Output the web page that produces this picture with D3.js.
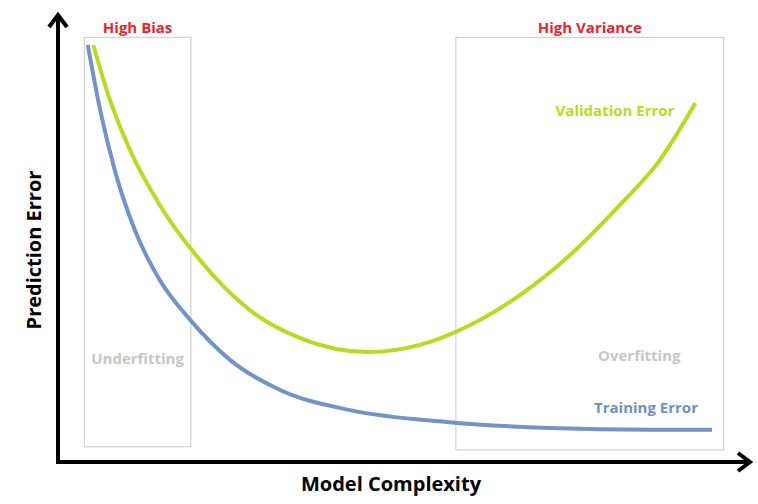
<!DOCTYPE html>
<html><head><meta charset="utf-8">
<script src="https://cdn.jsdelivr.net/npm/d3@7"></script>
<style>body{margin:0;background:#fff}</style>
</head><body>
<svg id="chart" width="758" height="504"></svg>
<script>
// complexity (0-10) vs error (0-10)
var validationX = [0.51,0.75,1.04,1.47,2.05,2.77,3.50,4.48,5.23,5.95,6.68,7.40,8.12,8.70,9.21];
var validationY = [9.33,8.10,6.98,5.75,4.52,3.40,2.77,2.46,2.62,3.06,3.74,4.63,5.75,6.76,8.03];
var trainingX = [0.43,0.61,0.82,1.11,1.47,1.91,2.49,3.21,4.22,5.66,7.11,8.55,9.45];
var trainingY = [9.33,7.87,6.53,5.19,4.07,3.18,2.28,1.61,1.16,0.89,0.76,0.72,0.72];
var regions = [
  {name:"Underfitting", head:"High Bias", x0:0.38, x1:1.92, y0:0.34, y1:9.5, lx:1.15, ly:2.2},
  {name:"Overfitting", head:"High Variance", x0:5.75, x1:9.62, y0:0.27, y1:9.5, lx:8.4, ly:2.27}
];

var svg = d3.select("#chart");
var x = d3.scaleLinear().domain([0,10]).range([58,750]);
var y = d3.scaleLinear().domain([0,10]).range([462,15]);
var font = "'Open Sans', sans-serif";

regions.forEach(function(r){
  svg.append("rect").attr("x",x(r.x0)).attr("y",y(r.y1))
    .attr("width",x(r.x1)-x(r.x0)).attr("height",y(r.y0)-y(r.y1))
    .attr("fill","none").attr("stroke","#c8c8c8").attr("stroke-width",1);
  svg.append("text").attr("x",(x(r.x0)+x(r.x1))/2).attr("y",33)
    .attr("text-anchor","middle").attr("fill","#e8262b").attr("font-family",font)
    .attr("font-weight","bold").attr("font-size",15).text(r.head);
  svg.append("text").attr("x",x(r.lx)).attr("y",y(r.ly))
    .attr("text-anchor","middle").attr("fill","#c6c6c6").attr("font-family",font)
    .attr("font-weight","bold").attr("font-size",15).text(r.name);
});

var line = d3.line().x(function(d){return x(d[0]);}).y(function(d){return y(d[1]);})
  .curve(d3.curveMonotoneX);
svg.append("path").attr("d", line(d3.zip(trainingX,trainingY)))
  .attr("fill","none").attr("stroke","#7393c4").attr("stroke-width",4);
svg.append("path").attr("d", line(d3.zip(validationX,validationY)))
  .attr("fill","none").attr("stroke","#b4dc21").attr("stroke-width",4);

svg.append("text").attr("x",615).attr("y",116).attr("text-anchor","middle")
  .attr("fill","#b4dc21").attr("font-family",font).attr("font-weight","bold")
  .attr("font-size",15).text("Validation Error");
svg.append("text").attr("x",646).attr("y",413).attr("text-anchor","middle")
  .attr("fill","#6f8fc2").attr("font-family",font).attr("font-weight","bold")
  .attr("font-size",15).text("Training Error");

// axes with arrow heads
svg.append("line").attr("x1",x(0)).attr("y1",y(0)).attr("x2",x(0)).attr("y2",y(10)+2)
  .attr("stroke","#000").attr("stroke-width",4);
svg.append("line").attr("x1",x(0)-2).attr("y1",y(0)).attr("x2",x(10)-2).attr("y2",y(0))
  .attr("stroke","#000").attr("stroke-width",4);
svg.append("path").attr("d","M"+(x(0)-9)+","+(y(10)+12)+"L"+x(0)+","+y(10)+"L"+(x(0)+9)+","+(y(10)+12))
  .attr("fill","none").attr("stroke","#000").attr("stroke-width",4);
svg.append("path").attr("d","M"+(x(10)-12)+","+(y(0)-9)+"L"+x(10)+","+y(0)+"L"+(x(10)-12)+","+(y(0)+9))
  .attr("fill","none").attr("stroke","#000").attr("stroke-width",4);

svg.append("text").attr("x",391).attr("y",491).attr("text-anchor","middle")
  .attr("font-family",font).attr("font-weight","bold").attr("font-size",20)
  .text("Model Complexity");
svg.append("text").attr("transform","translate(41,250) rotate(-90)").attr("text-anchor","middle")
  .attr("font-family",font).attr("font-weight","bold").attr("font-size",20)
  .text("Prediction Error");
</script>
</body></html>
